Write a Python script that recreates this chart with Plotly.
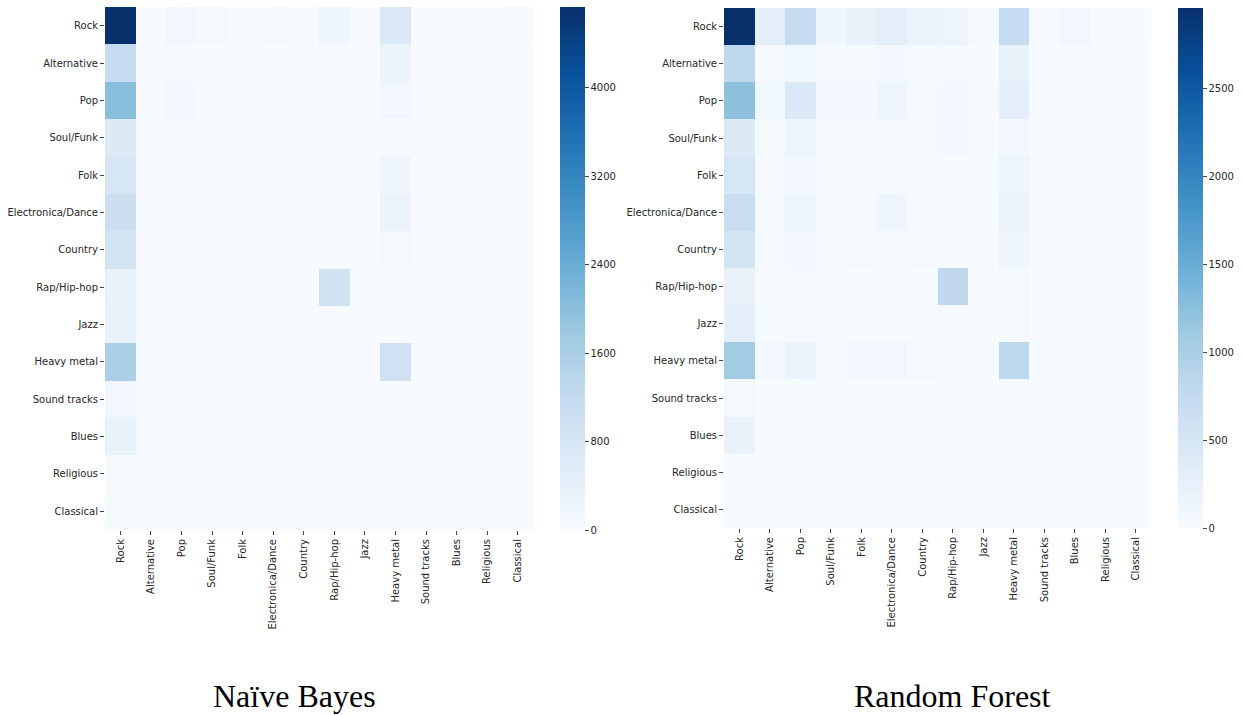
import plotly.graph_objects as go

genres = ["Rock", "Alternative", "Pop", "Soul/Funk", "Folk", "Electronica/Dance",
          "Country", "Rap/Hip-hop", "Jazz", "Heavy metal", "Sound tracks", "Blues",
          "Religious", "Classical"]

# Confusion matrix, Naive Bayes (rows: true genre, cols: predicted genre)
nb_rock =        [4730, 10, 150, 80, 10, 60, 10, 200, 10, 660, 10, 10, 10, 30]
nb_alternative = [1180, 10, 20, 10, 10, 10, 10, 20, 10, 280, 10, 10, 10, 10]
nb_pop =         [2030, 10, 100, 40, 10, 30, 10, 80, 10, 150, 10, 10, 10, 10]
nb_soulfunk =    [640, 10, 60, 50, 10, 10, 10, 30, 10, 20, 10, 10, 10, 10]
nb_folk =        [760, 10, 20, 10, 10, 10, 10, 40, 10, 200, 10, 10, 10, 10]
nb_electronica = [1040, 10, 50, 10, 10, 70, 10, 20, 10, 260, 10, 10, 10, 10]
nb_country =     [850, 10, 20, 10, 10, 10, 10, 20, 10, 60, 10, 10, 10, 10]
nb_rap =         [330, 10, 50, 50, 10, 10, 10, 900, 10, 40, 10, 10, 10, 10]
nb_jazz =        [380, 10, 10, 10, 10, 10, 10, 10, 10, 40, 10, 10, 10, 10]
nb_heavymetal =  [1560, 10, 10, 10, 10, 30, 10, 30, 10, 950, 10, 10, 10, 10]
nb_soundtracks = [150, 10, 10, 10, 10, 10, 10, 10, 10, 30, 10, 10, 10, 10]
nb_blues =       [350, 10, 10, 10, 10, 10, 10, 10, 10, 30, 10, 10, 10, 10]
nb_religious =   [20, 0, 0, 0, 0, 0, 0, 0, 0, 10, 0, 0, 0, 0]
nb_classical =   [40, 0, 10, 0, 0, 0, 0, 0, 0, 10, 0, 0, 0, 0]

# Confusion matrix, Random Forest
rf_rock =        [2960, 300, 740, 120, 200, 290, 180, 150, 30, 750, 20, 90, 5, 10]
rf_alternative = [800, 40, 100, 20, 40, 80, 40, 30, 10, 240, 10, 20, 5, 5]
rf_pop =         [1240, 100, 420, 80, 70, 130, 30, 60, 20, 270, 10, 30, 5, 5]
rf_soulfunk =    [400, 40, 150, 40, 40, 50, 20, 60, 10, 90, 10, 10, 5, 5]
rf_folk =        [480, 20, 70, 20, 30, 30, 20, 20, 10, 160, 10, 30, 5, 5]
rf_electronica = [690, 50, 140, 20, 20, 130, 20, 20, 10, 180, 10, 10, 5, 5]
rf_country =     [540, 20, 60, 20, 40, 20, 50, 20, 10, 120, 10, 30, 5, 5]
rf_rap =         [200, 20, 50, 20, 10, 10, 10, 780, 10, 40, 10, 10, 5, 5]
rf_jazz =        [270, 10, 20, 10, 10, 10, 10, 20, 10, 50, 10, 10, 5, 5]
rf_heavymetal =  [1070, 80, 190, 30, 70, 90, 40, 40, 10, 800, 10, 30, 5, 5]
rf_soundtracks = [40, 10, 10, 10, 10, 10, 10, 20, 10, 20, 10, 10, 5, 5]
rf_blues =       [210, 10, 30, 10, 10, 20, 10, 10, 10, 20, 10, 30, 5, 5]
rf_religious =   [5, 5, 5, 5, 5, 5, 5, 5, 5, 5, 5, 5, 5, 5]
rf_classical =   [20, 5, 5, 5, 5, 5, 5, 5, 5, 5, 5, 5, 5, 5]

nb_matrix = [nb_rock, nb_alternative, nb_pop, nb_soulfunk, nb_folk, nb_electronica,
             nb_country, nb_rap, nb_jazz, nb_heavymetal, nb_soundtracks, nb_blues,
             nb_religious, nb_classical]
rf_matrix = [rf_rock, rf_alternative, rf_pop, rf_soulfunk, rf_folk, rf_electronica,
             rf_country, rf_rap, rf_jazz, rf_heavymetal, rf_soundtracks, rf_blues,
             rf_religious, rf_classical]

nb_ticks = [0, 800, 1600, 2400, 3200, 4000]
rf_ticks = [0, 500, 1000, 1500, 2000, 2500]

blues = [[0.0, "#f7fbff"], [0.125, "#deebf7"], [0.25, "#c6dbef"], [0.375, "#9ecae1"],
         [0.5, "#6baed6"], [0.625, "#4292c6"], [0.75, "#2171b5"], [0.875, "#08519c"],
         [1.0, "#08306b"]]

W, H = 1244, 715
tick_font = dict(family="DejaVu Sans", size=10, color="#262626")

fig = go.Figure()


def add_panel(matrix, ticks, xdom, ydom, xname, yname, cb_x, cb_len_px, cb_y):
    zmax = max(max(r) for r in matrix)
    fig.add_trace(go.Heatmap(
        z=matrix, x=genres, y=genres, colorscale=blues, zmin=0, zmax=zmax,
        xaxis=xname, yaxis=yname, xgap=0, ygap=0,
        colorbar=dict(
            x=cb_x, xanchor="left", xref="paper", y=cb_y, yanchor="top",
            lenmode="pixels", len=cb_len_px, thickness=25, thicknessmode="pixels",
            outlinewidth=0, tickvals=ticks, ticks="outside", ticklen=4,
            tickcolor="#444", tickfont=tick_font, ypad=0, xpad=0,
        ),
    ))
    key_x = "xaxis" if xname == "x" else "xaxis" + xname[1:]
    key_y = "yaxis" if yname == "y" else "yaxis" + yname[1:]
    fig.layout[key_x] = dict(domain=xdom, anchor=yname, tickangle=-90, tickfont=tick_font,
                             ticks="outside", ticklen=4, tickcolor="#444",
                             showgrid=False, zeroline=False, showline=False)
    fig.layout[key_y] = dict(domain=ydom, anchor=xname, autorange="reversed",
                             tickfont=tick_font, ticks="outside", ticklen=4,
                             tickcolor="#444", showgrid=False, zeroline=False,
                             showline=False)


add_panel(nb_matrix, nb_ticks, [105 / W, 533 / W], [185 / H, 708 / H], "x", "y",
          560 / W, 523, 708 / H)
add_panel(rf_matrix, rf_ticks, [724 / W, 1151 / W], [187 / H, 707 / H], "x2", "y2",
          1178 / W, 520, 707 / H)

title_font = dict(family="Liberation Serif", size=32, color="black")
fig.add_annotation(text="Naïve Bayes", x=294 / W, y=(715 - 696) / H, xref="paper",
                   yref="paper", showarrow=False, font=title_font,
                   xanchor="center", yanchor="middle")
fig.add_annotation(text="Random Forest", x=953 / W, y=(715 - 696) / H, xref="paper",
                   yref="paper", showarrow=False, font=title_font,
                   xanchor="center", yanchor="middle")

fig.update_layout(width=W, height=H, margin=dict(l=0, r=0, t=0, b=0),
                  paper_bgcolor="white", plot_bgcolor="white")

fig.write_html("out.html")
